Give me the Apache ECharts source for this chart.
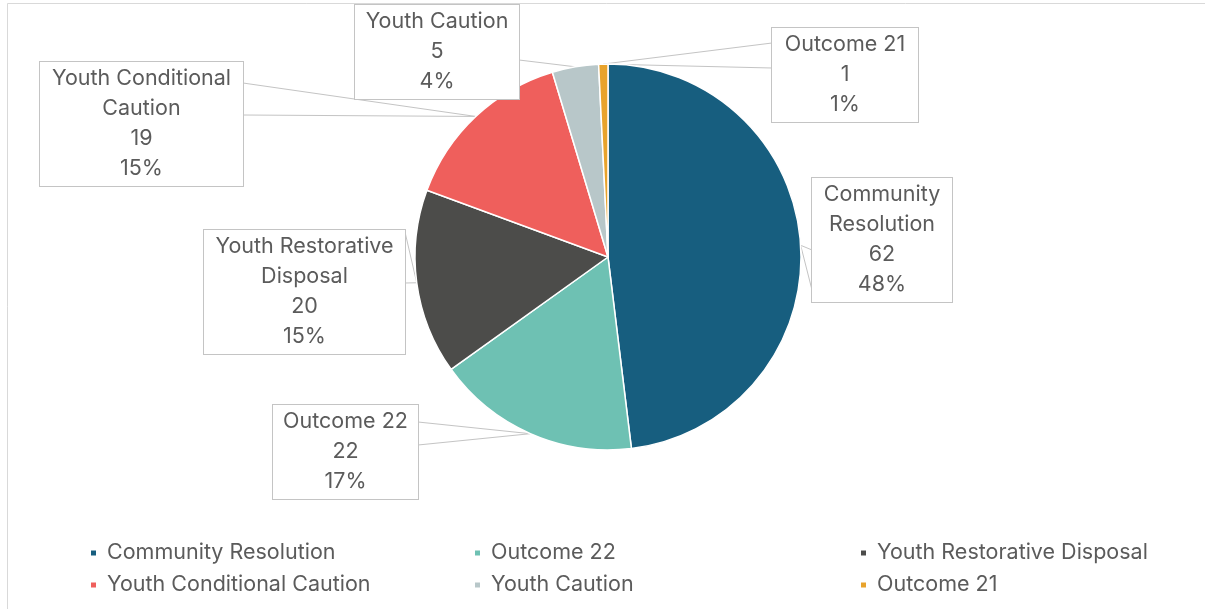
<!DOCTYPE html>
<html>
<head>
<meta charset="utf-8">
<script src="https://cdn.jsdelivr.net/npm/echarts@6/dist/echarts.min.js"></script>
<style>
html, body { margin: 0; background: #fff; }
#chart { width: 1205px; height: 609px; }
</style>
</head>
<body>
<div id="chart"></div>
<script>
// data
var categories = ['Community Resolution', 'Outcome 22', 'Youth Restorative Disposal',
    'Youth Conditional Caution', 'Youth Caution', 'Outcome 21'];
var counts = [62, 22, 20, 19, 5, 1];
var labelNames = ['Community\nResolution', 'Outcome 22', 'Youth Restorative\nDisposal',
    'Youth Conditional\nCaution', 'Youth Caution', 'Outcome 21'];

var colors = ['#175e7f', '#6ec1b3', '#4c4c4a', '#ef5f5c', '#b8c7c9', '#e8a32c'];

// callout boxes: left, top, width
var calloutBoxes = [
    [812, 178, 140],
    [273, 405, 145],
    [204, 230, 201],
    [40, 62, 203],
    [355, 5, 164],
    [772, 28, 146]
];
// pointer base on the box side: x, y1, y2
var calloutBase = [
    [812, 250, 290],
    [418, 422, 445],
    [405, 232, 283],
    [243, 83, 115],
    [519, 60, 88],
    [772, 43, 68]
];

var pieCenter = [608, 257];
var pieRadius = 193;
var textColor = '#5b5b5b';
var fontName = 'Inter';
var fontSize = 21.5;

var chartDom = document.getElementById('chart');
var myChart = echarts.init(chartDom);

function tipPoint(i) {
    var total = 0, before = 0;
    for (var k = 0; k < counts.length; k++) {
        total += counts[k];
        if (k < i) before += counts[k];
    }
    var a = (before + counts[i] / 2) / total * Math.PI * 2;
    return [pieCenter[0] + Math.sin(a) * pieRadius, pieCenter[1] - Math.cos(a) * pieRadius];
}

var legendCommon = {
    orient: 'vertical',
    icon: 'rect',
    itemWidth: 7,
    itemHeight: 7,
    itemGap: 10,
    padding: 0,
    selectedMode: false,
    textStyle: {
        color: textColor,
        fontSize: fontSize,
        fontFamily: fontName,
        lineHeight: 22,
        padding: [0, 0, 0, 5]
    }
};

var option = {
    backgroundColor: '#fff',
    color: colors,
    animation: false,
    graphic: [
        { type: 'line', shape: { x1: 7.5, y1: 3.5, x2: 1205, y2: 3.5 }, style: { stroke: '#d9d9d9', lineWidth: 1 } },
        { type: 'line', shape: { x1: 7.5, y1: 3.5, x2: 7.5, y2: 609 }, style: { stroke: '#d9d9d9', lineWidth: 1 } }
    ],
    legend: [
        Object.assign({ left: 89, top: 542, data: [categories[0], categories[3]] }, legendCommon),
        Object.assign({ left: 473, top: 542, data: [categories[1], categories[4]] }, legendCommon),
        Object.assign({ left: 859, top: 542, data: [categories[2], categories[5]] }, legendCommon)
    ],
    series: [
        {
            name: 'Outcomes',
            type: 'pie',
            center: pieCenter,
            radius: pieRadius,
            startAngle: 90,
            clockwise: true,
            percentPrecision: 0,
            itemStyle: {
                borderColor: '#fff',
                borderWidth: 1.5
            },
            emphasis: { scale: false },
            label: {
                show: true,
                position: 'outside',
                formatter: function (p) {
                    return labelNames[p.dataIndex] + '\n' + p.value + '\n' + p.percent + '%';
                },
                color: textColor,
                fontSize: fontSize,
                fontFamily: fontName,
                lineHeight: 30,
                align: 'center',
                backgroundColor: '#fff',
                borderColor: '#c4c4c4',
                borderWidth: 1,
                padding: [2, 0]
            },
            labelLine: {
                show: true,
                lineStyle: { color: '#c4c4c4', width: 1 }
            },
            labelLayout: function (params) {
                var i = params.dataIndex;
                var box = calloutBoxes[i];
                var base = calloutBase[i];
                var tip = (params.labelLinePoints && params.labelLinePoints[0]) || tipPoint(i);
                return {
                    x: box[0] + box[2] / 2,
                    y: box[1],
                    align: 'center',
                    verticalAlign: 'top',
                    labelLinePoints: [[base[0], base[1]], [tip[0], tip[1]], [base[0], base[2]]]
                };
            },
            data: categories.map(function (c, i) {
                return { name: c, value: counts[i], label: { width: calloutBoxes[i][2] } };
            })
        }
    ]
};

myChart.setOption(option);
</script>
</body>
</html>
